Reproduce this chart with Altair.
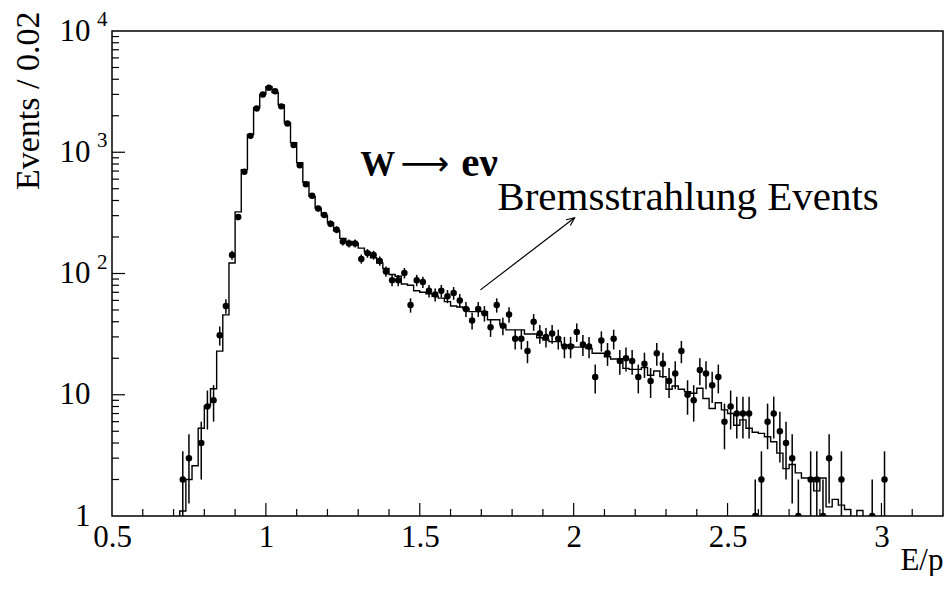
import altair as alt
import pandas as pd
import numpy as np

# ---------------- data ----------------
BIN_START = 0.73      # centre of first bin
BIN_WIDTH = 0.02

# observed counts per bin (centres 0.73 ... 3.01)
data_counts = [
    2, 3, 0, 4, 8, 9, 31, 54, 142, 292,
    690, 1365, 2300, 3000, 3400, 3180, 2390, 1730, 1150, 780,
    545, 437, 344, 304, 257, 230, 184, 177, 177, 132,
    147, 142, 127, 104, 88, 88, 101, 55, 88, 85,
    72, 67, 72, 65, 69, 60, 51, 41, 51, 47,
    36, 55, 37, 46, 29, 29, 23, 40, 32, 30,
    32, 29, 25, 25, 33, 26, 25, 14, 28, 22,
    29, 19, 20, 19, 14, 18, 13, 22, 18, 13,
    15, 23, 10, 9, 16, 15, 12, 14, 6, 8,
    7, 7, 7, 1, 2, 6, 7, 5, 4, 3,
    1, 0, 2, 2, 1, 3, 0, 2, 0, 0,
    0, 0, 1, 0, 2,
]

# simulated histogram per bin (centres 0.73 ... 2.95)
mc_counts = [
    1.1, 2.0, 2.6, 5.3, 8.1, 11.2, 22.9, 45.6, 122, 322,
    719, 1400, 2330, 3000, 3470, 3100, 2460, 1750, 1200, 820,
    565, 433, 346, 300, 262, 225, 195, 184, 178, 162,
    150, 135, 122, 110, 98, 95, 82, 80, 72, 70,
    68, 65, 62.6, 58.6, 54, 53, 51.5, 48.5, 48.5, 48.5,
    41.5, 41.5, 37.7, 34.3, 34.3, 34.3, 31.7, 31.7, 29.5, 28.3,
    27.4, 27.4, 25.7, 25.7, 24.7, 24.7, 24, 22, 22, 20.6,
    19.7, 19.7, 16.5, 16.2, 16.2, 16.8, 14.5, 15.7, 14.1, 11.1,
    11.8, 11.1, 10.6, 10.3, 11.3, 9.3, 7.7, 8.6, 7.5, 7.0,
    5.6, 6.2, 5.3, 4.9, 4.8, 4.5, 4.1, 3.3, 2.46, 2.66,
    2.27, 2.06, 2.06, 1.61, 2.06, 1.19, 1.37, 1.23, 1.13, 0.9,
    1.11, 0,
]

x_major = [0.5, 1.0, 1.5, 2.0, 2.5, 3.0]
x_minor = [0.6, 0.7, 0.8, 0.9, 1.1, 1.2, 1.3, 1.4, 1.6, 1.7, 1.8, 1.9,
           2.1, 2.2, 2.3, 2.4, 2.6, 2.7, 2.8, 2.9, 3.1]
y_major = [1, 10, 100, 1000, 10000]
y_minor = [m * d for d in [1, 10, 100, 1000] for m in range(2, 10)]
exp_values = [100, 1000, 10000]
exp_labels = ["2", "3", "4"]

FLOOR = 0.1  # stand-in for empty bins on the log axis (drawn below the frame)

# ---------------- tables ----------------
centers = [round(BIN_START + BIN_WIDTH * i, 2) for i in range(len(data_counts))]
pts = pd.DataFrame({"x": centers, "n": data_counts})
pts = pts[pts["n"] > 0].copy()
pts["lo"] = np.maximum(pts["n"] - np.sqrt(pts["n"]), FLOOR)
pts["hi"] = pts["n"] + np.sqrt(pts["n"])

lower_edges = [round(BIN_START - BIN_WIDTH / 2 + BIN_WIDTH * i, 2) for i in range(len(mc_counts))]
hx = [round(lower_edges[0] - BIN_WIDTH, 2)] + lower_edges + [round(lower_edges[-1] + BIN_WIDTH, 2)]
hy = [FLOOR] + [max(v, FLOOR) for v in mc_counts] + [FLOOR]
hist = pd.DataFrame({"x": hx, "y": hy, "o": list(range(len(hx)))})

W, H = 831, 485
FONT = "Liberation Serif"

xscale = alt.Scale(domain=[0.5, 3.2], nice=False, zero=False)
yscale = alt.Scale(type="log", domain=[1, 10000], nice=False)

x_axis = alt.Axis(
    values=x_major, format="~g", labelFont=FONT, labelFontSize=31, labelColor="black",
    labelPadding=6, labelFlush=False, labelOverlap=False, ticks=False, domain=False, grid=False,
    title="E/p", titleFont=FONT, titleFontSize=31, titleFontWeight="normal", titleColor="black",
    titleX=W, titleY=53, titleAlign="right", titleBaseline="alphabetic",
)
y_axis = alt.Axis(
    values=y_major, labelExpr="datum.value == 1 ? '1' : '10'", labelFont=FONT, labelFontSize=31,
    labelColor="black", labelPadding=22, labelFlush=False, labelOverlap=False, ticks=False,
    domain=False, grid=False,
    title="Events / 0.02", titleFont=FONT, titleFontSize=34, titleFontWeight="normal",
    titleColor="black", titleAngle=270, titleX=-74, titleY=-20, titleAlign="right",
    titleBaseline="alphabetic",
)


def X(field):
    return alt.X(f"{field}:Q", scale=xscale, axis=x_axis)


def Y(field):
    return alt.Y(f"{field}:Q", scale=yscale, axis=y_axis)


hist_layer = alt.Chart(hist).mark_line(
    interpolate="step-after", color="black", strokeWidth=1.4, clip=True
).encode(x=X("x"), y=Y("y"), order="o:Q")

err_layer = alt.Chart(pts).mark_rule(color="black", strokeWidth=1.5, clip=True).encode(
    x=X("x"), y=Y("lo"), y2="hi:Q"
)

dot_layer = alt.Chart(pts).mark_circle(color="black", opacity=1, size=42, clip=True).encode(
    x=X("x"), y=Y("n")
)

# inward tick marks
xmaj_df = pd.DataFrame({"t": x_major[1:]})
xmin_df = pd.DataFrame({"t": x_minor})
ymaj_df = pd.DataFrame({"t": y_major[1:-1]})
ymin_df = pd.DataFrame({"t": y_minor})

xmaj = alt.Chart(xmaj_df).mark_rule(color="black", strokeWidth=1.2).encode(
    x=X("t"), y=alt.value(H), y2=alt.value(H - 13))
xmin = alt.Chart(xmin_df).mark_rule(color="black", strokeWidth=1.2).encode(
    x=X("t"), y=alt.value(H), y2=alt.value(H - 7))
ymaj = alt.Chart(ymaj_df).mark_rule(color="black", strokeWidth=1.2).encode(
    y=Y("t"), x=alt.value(0), x2=alt.value(13))
ymin = alt.Chart(ymin_df).mark_rule(color="black", strokeWidth=1.2).encode(
    y=Y("t"), x=alt.value(0), x2=alt.value(7))

# exponents of the y labels
exp_df = pd.DataFrame({"t": exp_values, "lab": exp_labels})
exp_layer = alt.Chart(exp_df).mark_text(
    font=FONT, fontSize=21, align="left", baseline="middle", dy=-11, color="black"
).encode(y=Y("t"), x=alt.value(-15), text="lab:N")

# annotation "W -> e nu" (three pieces so the arrow can be long and thin)
w_df = pd.DataFrame({"x": [1.3065], "y": [642], "lab": ["W"]})
w_txt = alt.Chart(w_df).mark_text(
    font=FONT, fontSize=35, fontWeight="bold", align="left", baseline="alphabetic", color="black"
).encode(x=X("x"), y=Y("y"), text="lab:N")

arr_df = pd.DataFrame({"x": [1.437], "y": [790], "lab": ["\u27f6"]})
arr_txt = alt.Chart(arr_df).mark_text(
    font="DejaVu Sans", fontSize=34, align="left", baseline="middle", color="black"
).encode(x=X("x"), y=Y("y"), text="lab:N")

enu_df = pd.DataFrame({"x": [1.635], "y": [642], "lab": ["e\u03bd"]})
enu_txt = alt.Chart(enu_df).mark_text(
    font=FONT, fontSize=41, fontWeight="bold", align="left", baseline="alphabetic", color="black"
).encode(x=X("x"), y=Y("y"), text="lab:N")

brem_df = pd.DataFrame({"x": [1.752], "y": [336], "lab": ["Bremsstrahlung Events"]})
brem = alt.Chart(brem_df).mark_text(
    font=FONT, fontSize=41, align="left", baseline="alphabetic", color="black"
).encode(x=X("x"), y=Y("y"), text="lab:N")

arrow_df = pd.DataFrame({"x": [1.697], "y": [73.3], "x2": [2.003], "y2": [288]})
arrow_line = alt.Chart(arrow_df).mark_rule(color="black", strokeWidth=1.2).encode(
    x=X("x"), y=Y("y"), x2="x2:Q", y2="y2:Q")
arrow_head = alt.Chart(arrow_df).mark_point(
    shape="M -0.45 1 L 0 0 L 0.45 1", filled=False, color="black", strokeWidth=1.2,
    size=260, angle=53, opacity=1
).encode(x=X("x2"), y=Y("y2"))

chart = alt.layer(
    hist_layer, err_layer, dot_layer, xmaj, xmin, ymaj, ymin, exp_layer,
    w_txt, arr_txt, enu_txt, brem, arrow_line, arrow_head
).properties(
    width=W, height=H,
    autosize=alt.AutoSizeParams(type="none"),
    padding={"left": 104, "top": 23, "right": 1, "bottom": 60},
    background="white",
).configure_view(stroke="black", strokeWidth=1.5)

chart.save("out.html", embed_options={"renderer": "svg", "actions": False})
